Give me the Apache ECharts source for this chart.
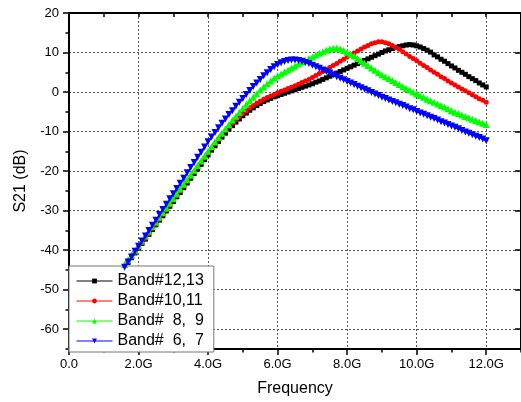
<!DOCTYPE html>
<html>
<head>
<meta charset="utf-8">
<script src="https://cdn.jsdelivr.net/npm/echarts@6/dist/echarts.min.js"></script>
<style>
  html, body { margin: 0; padding: 0; background: #fff; }
  #chart { width: 521px; height: 402px; }
</style>
</head>
<body>
<div id="chart"></div>
<script>
// Frequency sweep in GHz
const freqGHz = [
  1.6, 1.7, 1.8, 1.9, 2.0, 2.1, 2.2, 2.3, 2.4, 2.5, 2.6, 2.7, 2.8, 2.9, 3.0,
  3.1, 3.2, 3.3, 3.4, 3.5, 3.6, 3.7, 3.8, 3.9, 4.0, 4.1, 4.2, 4.3, 4.4, 4.5,
  4.6, 4.7, 4.8, 4.9, 5.0, 5.1, 5.2, 5.3, 5.4, 5.5, 5.6, 5.7, 5.8, 5.9, 6.0,
  6.1, 6.2, 6.3, 6.4, 6.5, 6.6, 6.7, 6.8, 6.9, 7.0, 7.1, 7.2, 7.3, 7.4, 7.5,
  7.6, 7.7, 7.8, 7.9, 8.0, 8.1, 8.2, 8.3, 8.4, 8.5, 8.6, 8.7, 8.8, 8.9, 9.0,
  9.1, 9.2, 9.3, 9.4, 9.5, 9.6, 9.7, 9.8, 9.9, 10.0, 10.1, 10.2, 10.3, 10.4, 10.5,
  10.6, 10.7, 10.8, 10.9, 11.0, 11.1, 11.2, 11.3, 11.4, 11.5, 11.6, 11.7, 11.8, 11.9, 12.0
];

// S21 (dB) per band pair
const band1213 = [
  -44.2, -43.1, -41.9, -40.7, -39.5, -38.3, -37.2, -36.0, -34.8, -33.6, -32.4, -31.3, -30.1, -28.9, -27.7,
  -26.5, -25.4, -24.2, -23.0, -21.8, -20.6, -19.5, -18.3, -17.1, -15.9, -14.7, -13.6, -12.5, -11.4, -10.4,
  -9.4, -8.5, -7.6, -6.8, -6.0, -5.3, -4.6, -4.0, -3.4, -2.9, -2.4, -2.0, -1.6, -1.2, -0.9,
  -0.6, -0.3, 0.0, 0.3, 0.6, 0.9, 1.2, 1.5, 1.8, 2.1, 2.5, 2.8, 3.2, 3.6, 4.0,
  4.4, 4.8, 5.2, 5.6, 6.0, 6.4, 6.8, 7.2, 7.6, 8.0, 8.4, 8.8, 9.2, 9.6, 10.0,
  10.4, 10.7, 11.0, 11.3, 11.5, 11.7, 11.9, 12.0, 11.9, 11.7, 11.4, 11.0, 10.6, 10.1, 9.4,
  8.9, 8.3, 7.8, 7.2, 6.6, 6.1, 5.5, 5.0, 4.5, 3.9, 3.4, 2.9, 2.3, 1.8, 1.3
];
const band1011 = [
  -44.2, -43.0, -41.8, -40.6, -39.4, -38.2, -37.0, -35.8, -34.6, -33.4, -32.2, -31.0, -29.8, -28.6, -27.4,
  -26.2, -25.0, -23.8, -22.6, -21.4, -20.2, -19.0, -17.8, -16.6, -15.4, -14.2, -13.0, -11.9, -10.8, -9.8,
  -8.8, -7.9, -7.0, -6.2, -5.4, -4.7, -4.0, -3.4, -2.8, -2.3, -1.8, -1.4, -1.0, -0.6, -0.2,
  0.2, 0.5, 0.9, 1.2, 1.6, 2.0, 2.4, 2.8, 3.2, 3.7, 4.2, 4.7, 5.2, 5.7, 6.2,
  6.7, 7.2, 7.8, 8.3, 8.9, 9.4, 9.9, 10.4, 10.9, 11.4, 11.8, 12.2, 12.5, 12.7, 12.7,
  12.5, 12.2, 11.8, 11.3, 10.8, 10.2, 9.6, 9.0, 8.5, 7.9, 7.3, 6.7, 6.2, 5.6, 5.0,
  4.5, 3.9, 3.4, 2.8, 2.3, 1.8, 1.3, 0.8, 0.3, -0.2, -0.7, -1.2, -1.7, -2.1, -2.6
];
const band89 = [
  -43.6, -42.4, -41.2, -40.0, -38.8, -37.6, -36.4, -35.2, -34.0, -32.9, -31.7, -30.5, -29.3, -28.1, -26.9,
  -25.7, -24.5, -23.3, -22.1, -21.0, -19.8, -18.6, -17.4, -16.2, -15.0, -13.8, -12.6, -11.5, -10.4, -9.3,
  -8.2, -7.1, -6.1, -5.1, -4.1, -3.1, -2.2, -1.3, -0.4, 0.5, 1.3, 2.1, 2.8, 3.5, 4.1,
  4.6, 5.1, 5.6, 6.1, 6.6, 7.1, 7.6, 8.0, 8.5, 8.9, 9.4, 9.8, 10.2, 10.6, 10.9,
  11.1, 11.1, 10.9, 10.5, 10.1, 9.6, 9.1, 8.5, 7.9, 7.3, 6.7, 6.1, 5.5, 4.9, 4.4,
  3.9, 3.4, 2.9, 2.4, 1.9, 1.4, 0.9, 0.5, 0.0, -0.5, -0.9, -1.3, -1.8, -2.2, -2.6,
  -3.0, -3.4, -3.8, -4.2, -4.7, -5.1, -5.4, -5.8, -6.2, -6.5, -6.9, -7.2, -7.6, -7.9, -8.2
];
const band67 = [
  -44.3, -43.0, -41.7, -40.3, -39.0, -37.7, -36.4, -35.0, -33.7, -32.4, -31.0, -29.7, -28.4, -27.0, -25.7,
  -24.4, -23.1, -21.8, -20.4, -19.1, -17.8, -16.5, -15.2, -13.9, -12.6, -11.4, -10.2, -9.0, -7.9, -6.8,
  -5.7, -4.7, -3.6, -2.6, -1.6, -0.6, 0.4, 1.4, 2.3, 3.2, 4.1, 4.9, 5.7, 6.4, 7.0,
  7.4, 7.7, 8.0, 8.1, 8.1, 8.0, 7.8, 7.5, 7.2, 6.8, 6.4, 6.0, 5.6, 5.2, 4.8,
  4.4, 3.9, 3.5, 3.1, 2.7, 2.3, 1.9, 1.5, 1.1, 0.7, 0.3, -0.1, -0.5, -0.9, -1.3,
  -1.6, -2.0, -2.4, -2.7, -3.1, -3.4, -3.8, -4.2, -4.5, -4.9, -5.3, -5.6, -6.0, -6.4, -6.7,
  -7.1, -7.5, -7.8, -8.2, -8.6, -8.9, -9.3, -9.7, -10.1, -10.4, -10.8, -11.2, -11.5, -11.9, -12.3
];

const bandNames = ['Band#12,13', 'Band#10,11', 'Band#  8,  9', 'Band#  6,  7'];
const bandColors = ['#000000', '#ff0000', '#00ff00', '#0000ff'];
const xTickLabels = ['0.0', '2.0G', '4.0G', '6.0G', '8.0G', '10.0G', '12.0G'];

const FONT = '"Liberation Sans", Arial, sans-serif';

function pairs(values) {
  return freqGHz.map((f, i) => [f, values[i]]);
}

const markers = [
  { symbol: 'rect', size: 5, rotate: 0 },
  { symbol: 'circle', size: 5, rotate: 0 },
  { symbol: 'triangle', size: 7, rotate: 0 },
  { symbol: 'triangle', size: 7, rotate: 180 }
];
const seriesValues = [band1213, band1011, band89, band67];

const dotted = { show: true, lineStyle: { color: '#555', type: [2, 2], width: 1 } };
const axisInk = { show: true, onZero: false, lineStyle: { color: '#000', width: 2 } };
const noLine = { show: false, onZero: false };

const chart = echarts.init(document.getElementById('chart'), null, { renderer: 'canvas' });

chart.setOption({
  animation: false,
  backgroundColor: '#ffffff',
  textStyle: { fontFamily: FONT },
  grid: { left: 69, top: 13, width: 455, height: 338, containLabel: false },
  legend: {
    orient: 'vertical',
    left: 69,
    top: 266,
    padding: [7, 10, 3, 7],
    itemWidth: 36,
    itemHeight: 6,
    itemGap: 4,
    backgroundColor: '#ffffff',
    borderColor: '#777',
    borderWidth: 1,
    lineStyle: { width: 1 },
    textStyle: { fontSize: 16, color: '#000', fontFamily: FONT, lineHeight: 16 },
    data: bandNames
  },
  xAxis: [
    {
      type: 'value', position: 'bottom', min: 0, max: 13, interval: 2,
      name: 'Frequency', nameLocation: 'middle', nameGap: 32,
      nameTextStyle: { fontSize: 16, color: '#000', fontFamily: FONT },
      axisLine: axisInk,
      axisTick: { show: true, inside: false, length: 6, lineStyle: { color: '#000', width: 1.5 } },
      axisLabel: {
        fontSize: 13, color: '#000', margin: 9, showMaxLabel: false, fontFamily: FONT,
        formatter: v => xTickLabels[Math.round(v / 2)] || ''
      },
      splitLine: dotted
    },
    {
      type: 'value', position: 'bottom', min: 0, max: 13, interval: 1,
      axisLine: noLine,
      axisTick: { show: true, inside: false, length: 3.5, lineStyle: { color: '#000', width: 1.5 } },
      axisLabel: { show: false },
      splitLine: { show: false }
    },
    {
      type: 'value', position: 'top', min: 0, max: 13, interval: 1,
      axisLine: axisInk,
      axisTick: { show: true, inside: true, length: 4, lineStyle: { color: '#000', width: 1.5 } },
      axisLabel: { show: false },
      splitLine: { show: false }
    }
  ],
  yAxis: [
    {
      type: 'value', position: 'left', min: -65, max: 20, splitNumber: 8,
      name: 'S21 (dB)', nameLocation: 'middle', nameGap: 40,
      nameTextStyle: { fontSize: 16, color: '#000', fontFamily: FONT },
      axisLine: axisInk,
      axisTick: { show: true, inside: false, length: 6, lineStyle: { color: '#000', width: 1.5 } },
      axisLabel: { fontSize: 13, color: '#000', margin: 10, showMinLabel: false, fontFamily: FONT },
      splitLine: dotted
    },
    {
      type: 'value', position: 'left', min: -65, max: 20, interval: 5,
      axisLine: noLine,
      axisTick: { show: true, inside: false, length: 3.5, lineStyle: { color: '#000', width: 1.5 } },
      axisLabel: { show: false },
      splitLine: { show: false }
    },
    {
      type: 'value', position: 'right', min: -65, max: 20, splitNumber: 8,
      axisLine: axisInk,
      axisTick: { show: true, inside: true, length: 6, lineStyle: { color: '#000', width: 1.5 } },
      axisLabel: { show: false },
      splitLine: { show: false }
    }
  ],
  series: bandNames.map((name, i) => ({
    name: name,
    type: 'line',
    xAxisIndex: 0,
    yAxisIndex: 0,
    data: pairs(seriesValues[i]),
    symbol: markers[i].symbol,
    symbolSize: markers[i].size,
    symbolRotate: markers[i].rotate,
    showAllSymbol: true,
    color: bandColors[i],
    itemStyle: { color: bandColors[i] },
    lineStyle: { color: bandColors[i], width: 1.5 },
    z: 2 + i
  }))
});
</script>
</body>
</html>
